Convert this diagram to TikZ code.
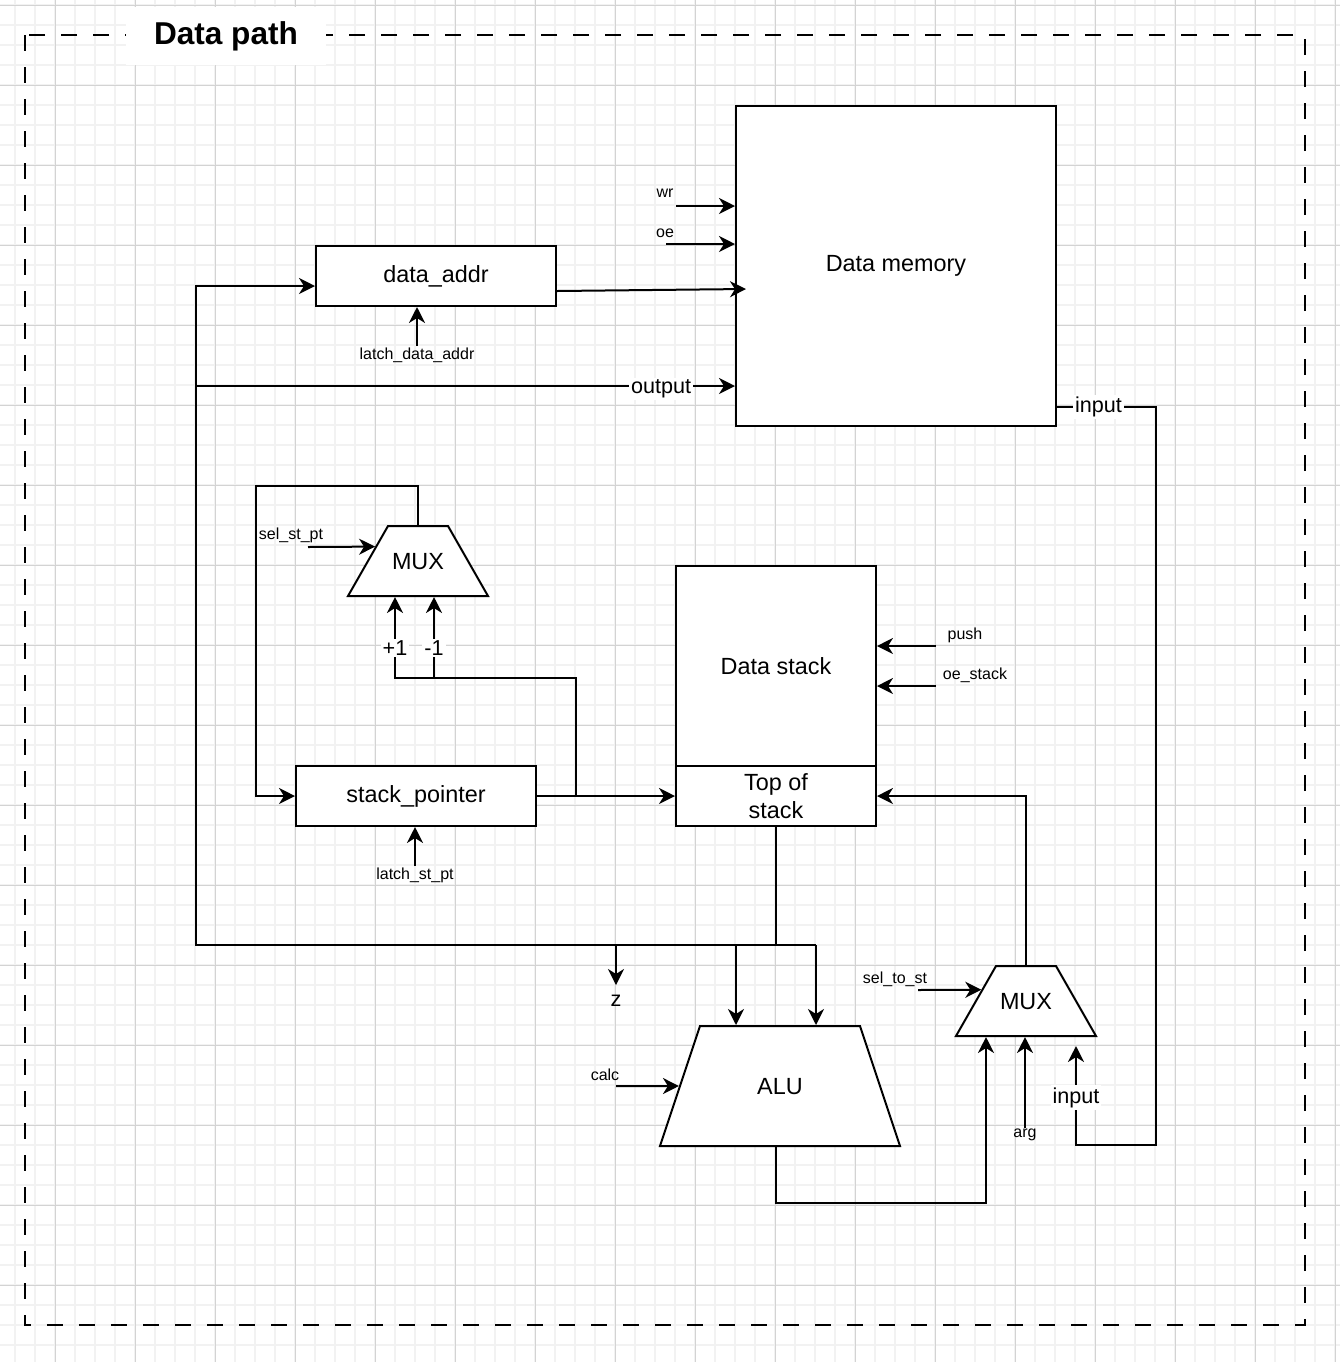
\documentclass[tikz,border=0pt]{standalone}
\usepackage{fontspec}
\setmainfont{Liberation Sans}
\usepackage{xcolor}
\usepackage{tikz}
\usetikzlibrary{arrows.meta,positioning,shapes.geometric,calc}
\definecolor{GridMinor}{HTML}{F2F2F2}
\definecolor{GridMajor}{HTML}{D3D3D3}

\begin{document}
  \begin{tikzpicture}[x=0.5pt,y=-0.5pt,
      wire/.style={line width=1pt,draw=black},
      sig/.style={wire,-{Stealth[length=8pt,width=8pt,inset=2.5pt]}},
      block/.style={draw,line width=1pt,fill=white,inner sep=0pt,font=\fontsize{11.7}{14}\selectfont},
      muxbox/.style={block,trapezium,trapezium angle=60.26,text width=30pt,align=center,
        text height=21.7pt,text depth=13.3pt},
      alubox/.style={block,trapezium,trapezium angle=71.57,text width=80pt,align=center,
        text height=34.2pt,text depth=25.8pt},
      ctl/.style={inner sep=0.5pt,font=\fontsize{8}{9.5}\selectfont},
      tag/.style={fill=white,inner sep=1pt,font=\fontsize{10.8}{12}\selectfont}]
    \useasboundingbox (0,0) rectangle (1340,1362);
    \fill[white] (0,0) rectangle (1340,1362);
    \foreach \gx in {15,35,...,1335} \draw[GridMinor,line width=1pt] (\gx,0) -- (\gx,1362);
    \foreach \gy in {5,25,...,1345} \draw[GridMinor,line width=1pt] (0,\gy) -- (1340,\gy);
    \foreach \gx in {55,135,...,1335} \draw[GridMajor,line width=0.5pt] (\gx,0) -- (\gx,1362);
    \foreach \gy in {5,85,...,1285} \draw[GridMajor,line width=0.5pt] (0,\gy) -- (1340,\gy);

    \draw[line width=1pt,dash pattern=on 8pt off 8pt] (25,35) rectangle (1305,1325);
    \node[fill=white,minimum width=100pt,minimum height=29pt,
          font=\bfseries\fontsize{15.8}{19}\selectfont] (title) at (226,36) {Data path};

    \node[block,minimum width=160pt,minimum height=160pt] (mem) at (896,266) {Data memory};
    \node[block,minimum width=120pt,minimum height=30pt] (daddr) at (436,276) {data\_addr};
    \node[block,minimum width=100pt,minimum height=100pt] (dstack) at (776,666) {Data stack};
    \node[block,minimum width=100pt,minimum height=30pt,align=center] (tos) at (776,796) {Top of\\stack};
    \node[block,minimum width=120pt,minimum height=30pt] (sp) at (416,796) {stack\_pointer};
    \node[muxbox] (muxsp) at (418,561) {MUX};
    \node[muxbox] (muxst) at (1026,1001) {MUX};
    \node[alubox] (alu) at (780,1086) {ALU};

    \node[ctl] (wrlbl) at (665,193) {wr};
    \node[ctl] (oelbl) at (665,233) {oe};
    \node[ctl] (ldalbl) at (417,355) {latch\_data\_addr};
    \node[ctl] (sstlbl) at (291,535) {sel\_st\_pt};
    \node[ctl] (lsplbl) at (415,875) {latch\_st\_pt};
    \node[ctl] (pushlbl) at (965,635) {push};
    \node[ctl] (oeslbl) at (975,675) {oe\_stack};
    \node[ctl] (ssmlbl) at (895,979) {sel\_to\_st};
    \node[ctl] (calclbl) at (605,1075) {calc};
    \node[ctl] (arglbl) at (1025,1135) {arg};
    \node[tag,fill=none] (zlbl) at (616,1001) {z};

    \coordinate (wrin) at (676,206);
    \coordinate (oein) at (666,244);
    \coordinate (maddr) at (746,289);
    \coordinate (bus) at (776,945);
    \coordinate (busl) at (196,945);
    \coordinate (outtap) at (196,386);
    \coordinate (zend) at (616,985);
    \coordinate (loop) at (256,486);
    \coordinate (sstin) at (308,547);
    \coordinate (spb) at (576,796);
    \coordinate (incr) at (395,678);
    \coordinate (decr) at (434,678);
    \coordinate (pushin) at (936,646);
    \coordinate (oesin) at (936,686);
    \coordinate (ssmin) at (918,990);
    \coordinate (calcin) at (616,1086);
    \coordinate (aluret) at (986,1203);
    \coordinate (inR) at (1156,1145);
    \coordinate (inend) at (1076,1046);

    \draw[sig] (wrin) -- (wrin -| mem.west);
    \draw[sig] (oein) -- (oein -| mem.west);
    \draw[sig] ([yshift=-7.5pt]daddr.east) -- (maddr);
    \draw[sig] (ldalbl.north) -- (ldalbl.north |- daddr.south);
    \draw[sig] (tos.south) -- (bus) -- (busl) |- ([yshift=-5pt]daddr.west);
    \draw[sig] (outtap) -- (outtap -| mem.west) node[tag,pos=0.863,yshift=-1.5pt] {output};
    \draw[wire] (bus) -- ([xshift=20pt]bus);
    \draw[sig] ([xshift=-20pt]bus) -- ([xshift=-20pt]bus |- alu.north);
    \draw[sig] ([xshift=20pt]bus) -- ([xshift=20pt]bus |- alu.north);
    \draw[sig] (bus -| zend) -- (zend);

    \draw[sig] (muxsp.north) |- (loop) |- (sp.west);
    \draw[sig] (sstin) -- ($(muxsp.bottom left corner)!0.7!(muxsp.top left corner)$);
    \draw[sig] (sp.east) -- (tos.west);
    \draw[sig] (spb) |- (incr) -- (incr |- muxsp.south) node[tag,pos=0.37] {+1};
    \draw[sig] (decr) -- (decr |- muxsp.south) node[tag,pos=0.37] {-1};
    \draw[sig] (lsplbl.north) -- (lsplbl.north |- sp.south);

    \draw[sig] (pushin) -- (pushin -| dstack.east);
    \draw[sig] (oesin) -- (oesin -| dstack.east);
    \draw[sig] (muxst.north) |- (tos.east);
    \draw[sig] (ssmin) -- ($(muxst.bottom left corner)!0.657!(muxst.top left corner)$);
    \draw[sig] (calcin) -- (alu.west);
    \draw[sig] (alu.south -| bus) |- (aluret) -- (aluret |- muxst.south);
    \draw[sig] (arglbl.north) -- (arglbl.north |- muxst.south);
    \draw[sig] ([yshift=10pt]mem.south east) -| node[tag,pos=0.21] {input} (inR)
      -| node[tag,pos=0.74] {input} (inend);
  \end{tikzpicture}
\end{document}
